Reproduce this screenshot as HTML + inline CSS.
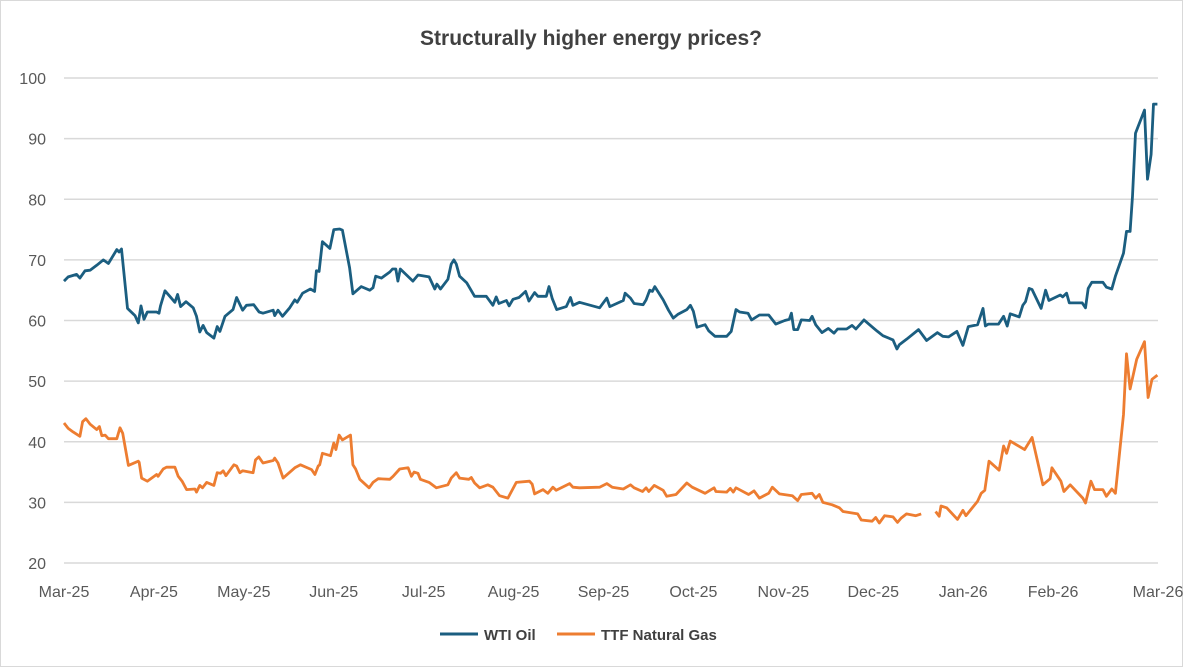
<!DOCTYPE html>
<html><head><meta charset="utf-8"><style>
html,body{margin:0;padding:0;background:#fff;}
svg{display:block;font-family:"Liberation Sans",Arial,sans-serif;}
</style></head><body>
<svg id="chart" width="1183" height="667" viewBox="0 0 1183 667">
<rect x="0.5" y="0.5" width="1182" height="666" fill="#fff" stroke="#d9d9d9"/>
<text x="591" y="45" text-anchor="middle" font-size="21" font-weight="bold" fill="#404040">Structurally higher energy prices?</text>
<g id="grid"></g>
<g id="yaxis"></g>
<g id="xaxis"></g>
<g id="series"></g>
<g>
<line x1="440" y1="634" x2="478" y2="634" stroke="#1b5e80" stroke-width="3"/>
<text x="484" y="640" font-size="15" font-weight="bold" fill="#404040">WTI Oil</text>
<line x1="557" y1="634" x2="595" y2="634" stroke="#ed7d31" stroke-width="3"/>
<text x="601" y="640" font-size="15" font-weight="bold" fill="#404040">TTF Natural Gas</text>
</g>
</svg>
<script>
const yTicks = [20,30,40,50,60,70,80,90,100];
const xTickLabels = ["Mar-25","Apr-25","May-25","Jun-25","Jul-25","Aug-25","Sep-25","Oct-25","Nov-25","Dec-25","Jan-26","Feb-26","Mar-26"];
const xTickDays = [0,30,60,90,120,150,180,210,240,270,300,330,365];
const wtiDays = [0,1.4,4.2,5.3,7,8.7,10.9,13.1,14.8,17.6,18.4,19.2,21.2,23.7,24.8,25.7,26.7,27.8,30.9,31.7,32.2,33.7,35.3,37,37.9,38.9,40.7,43.1,44.2,45.3,46.4,47.6,50,51.1,52,53.7,56.4,57.6,59.6,60.9,63.3,65.1,66.4,69.8,70.3,71.4,72.9,75.3,77,77.8,79.6,82.2,83.6,84.2,85.1,86.2,88.7,90,92,92.9,95.3,96.4,99.2,102,103.1,104,105.9,108.7,109.6,110.7,111.4,112.2,116.4,118.1,121.8,123.7,124.4,125.6,128.1,129.2,130.1,130.9,132,134.4,137,140.9,143.1,144.2,145.1,147.6,148.5,149.8,151.8,154,155.1,157,158.1,160.9,161.8,162.9,164.4,167.6,169,169.8,172,
178.7,181.1,182.1,186.6,187.2,189,190.2,193.2,194.2,195.4,196.3,197.1,199.9,201.7,203.3,204.8,207.8,209,210,211.2,213.9,215.1,217.2,221.1,222.6,224.2,225.4,228.2,229.4,232,235.1,237.5,240.5,242,242.7,243.5,244.8,246,248.8,249.6,250.8,252.9,255,256.9,258.1,261.1,262.9,264.2,266.9,270.2,271.4,273.2,276.6,277.9,278.7,281.1,285.1,287.8,291.4,293.2,295.1,297.9,299.9,301.7,304.8,306.6,307.4,308.4,311.8,313.5,314.7,315.7,318.7,319.9,320.8,322,323,326,327.5,328.6,332.4,333.2,334.5,335.4,339.7,340.8,341.7,342.9,346.6,347.8,349.6,350.8,353.5,354.5,355.7,356.5,357.5,360.5,361.5,362.7,363.5,364.8];
const wtiValues = [66.5,67.2,67.6,67,68.2,68.3,69.1,70,69.4,71.7,71.3,71.8,62,60.8,59.6,62.4,60.2,61.4,61.4,61.2,62.4,64.9,64,63,64.3,62.3,63.1,62.1,60.7,58.1,59.2,58,57.1,59,58.2,60.7,61.8,63.8,61.7,62.5,62.6,61.4,61.2,61.7,60.8,61.7,60.7,62.1,63.4,63,64.5,65.2,64.8,68.2,68.1,73,71.9,75,75.1,74.9,68.7,64.4,65.6,65,65.4,67.3,67,68,68.5,68.5,66.5,68.5,66.5,67.5,67.2,65.2,66,65.2,66.8,69.3,70,69.3,67.3,66.2,64,64,62.5,63.9,62.8,63.3,62.4,63.5,63.8,64.8,63.2,64.6,64,64,65.6,63.6,61.8,62.3,63.8,62.5,63,
62.1,63.7,62.3,63.3,64.5,63.7,62.8,62.6,63.4,65,64.8,65.6,63.4,61.7,60.4,61,61.8,62.5,61.5,58.9,59.3,58.3,57.4,57.4,58.2,61.8,61.4,61.2,60.1,60.9,60.9,59.4,60,60.2,61.2,58.5,58.5,60.1,60,60.7,59.3,58,58.7,57.9,58.6,58.6,59.2,58.6,60.1,58.7,58.2,57.5,56.8,55.3,56,56.9,58.5,56.7,58,57.4,57.3,58.2,55.9,59,59.3,62,59.1,59.4,59.4,60.7,59.1,61.1,60.6,62.5,63.1,65.3,65.1,62,65,63.3,64.2,63.9,64.5,62.9,62.9,62.1,65.3,66.3,66.3,65.5,65.2,67.3,71.1,74.7,74.7,80.5,90.9,94.7,83.3,87.4,95.7,95.7];
const ttfDays = [0,1.4,3.1,5.3,6.2,7.3,8.7,10.9,11.8,12.6,13.7,14.8,17.6,18.7,19.6,21.5,24.8,25.1,25.9,27.8,30.9,31.4,33.1,34.2,37,38.1,39.4,40.9,43.7,44.2,45.3,46.2,47.6,50,51.1,52.2,53.1,54,56.7,57.6,58.7,59.6,63.1,63.9,65,66.4,69.8,70.3,71.4,73.1,77,78.9,82.6,83.7,84.8,85.3,86.2,88.9,90,90.7,91.8,92.9,95.6,96.4,97.3,98.7,101.8,103.1,104.8,108.7,109.8,112,114.8,115.9,116.8,118.1,118.9,121.8,124.2,128.1,129.2,130.9,132,135.1,135.9,137,138.7,141.4,143.1,145.3,148.1,150.9,155.3,156.2,157,159.8,161.4,163.1,164.2,168.7,169.8,172,
178.7,181.1,182.9,186.6,189,190.2,193,194.2,195.1,196.9,199.9,201.1,204.2,207.8,209.6,213.9,216.9,217.5,221.1,222.3,223.3,224.2,228.4,230.2,232,235.1,236.3,238.7,243,244.8,246,249.6,250.8,252,253.2,256.3,258.7,259.9,264.8,266,269.6,270.8,272,273.8,276.6,278.1,279.3,281.1,284.2,286,288,
290.8,292,292.6,294.5,298.1,299.9,300.9,304.8,306,307.2,308.6,312,313.5,314.5,315.7,320.5,323,326.6,329,329.6,332.6,333.6,335.7,339.9,340.8,342.6,343.8,346.6,347.8,349.6,350.8,353.5,354.5,355.7,357.9,360.5,361.7,363,364.8];
const ttfValues = [43.1,42.2,41.6,40.9,43.3,43.8,42.9,42,42.5,41,41.1,40.5,40.5,42.3,41.4,36.1,36.8,36.6,34,33.5,34.6,34.3,35.5,35.8,35.8,34.3,33.5,32.1,32.2,31.7,32.8,32.4,33.3,32.8,34.9,34.8,35.2,34.4,36.2,36,34.9,35.2,34.9,37,37.5,36.5,36.9,37.3,36.5,34,35.7,36.2,35.4,34.6,36,36.2,38.1,37.7,39.8,38.7,41.1,40.3,41.1,36.2,35.5,33.8,32.4,33.3,33.9,33.8,34.3,35.5,35.7,34.3,35,34.8,33.8,33.3,32.4,32.9,34,34.9,34,33.8,34.1,33.2,32.4,32.9,32.5,31.1,30.7,33.3,33.5,33,31.4,32.1,31.5,32.5,32,33.1,32.5,32.4,
32.5,33.1,32.5,32.2,32.9,32.4,31.8,32.4,31.8,32.8,32,31,31.3,33.2,32.5,31.5,32.4,31.8,31.7,32.3,31.7,32.4,31.3,31.9,30.7,31.5,32.5,31.4,31.1,30.3,31.3,31.5,30.7,31.3,30,29.6,29.1,28.5,28.1,27.1,26.9,27.5,26.6,27.8,27.6,26.7,27.4,28.1,27.8,28.1,null,
28.5,27.7,29.4,29.1,27.2,28.7,27.8,30.2,31.5,32,36.8,35.3,39.3,38.1,40.1,38.7,40.7,32.9,33.9,35.7,33.5,31.8,32.9,30.7,29.9,33.5,32.1,32.1,31,32.2,31.5,44.5,54.5,48.7,53.6,56.5,47.3,50.3,51];

const X0=64, X1=1158, Y0=563, Y1=78, DMAX=365, VMIN=20, VMAX=100;
function xs(d){return X0+(X1-X0)*d/DMAX;}
function ys(v){return Y0-(Y0-Y1)*(v-VMIN)/(VMAX-VMIN);}
const NS="http://www.w3.org/2000/svg";
const grid=document.getElementById('grid'), yax=document.getElementById('yaxis'), xax=document.getElementById('xaxis'), ser=document.getElementById('series');
yTicks.forEach(v=>{
  const l=document.createElementNS(NS,'line');
  l.setAttribute('x1',X0);l.setAttribute('x2',X1);l.setAttribute('y1',ys(v));l.setAttribute('y2',ys(v));
  l.setAttribute('stroke','#d9d9d9');l.setAttribute('stroke-width','1.5');
  
  
  grid.appendChild(l);
  const t=document.createElementNS(NS,'text');
  t.setAttribute('x',46);t.setAttribute('y',ys(v)+6);t.setAttribute('text-anchor','end');
  t.setAttribute('font-size','16');t.setAttribute('fill','#595959');t.textContent=v;
  
  
  yax.appendChild(t);
});
xTickLabels.forEach((s,i)=>{
  const t=document.createElementNS(NS,'text');
  t.setAttribute('x',xs(xTickDays[i]));t.setAttribute('y',597);t.setAttribute('text-anchor','middle');
  t.setAttribute('font-size','16');t.setAttribute('fill','#595959');t.textContent=s;
  
  
  xax.appendChild(t);
});
function path(days,vals){
  let d='',pen=false;
  for(let i=0;i<days.length;i++){
    if(vals[i]===null){pen=false;continue;}
    d+=(pen?'L':'M')+xs(days[i]).toFixed(1)+','+ys(vals[i]).toFixed(1);pen=true;
  }
  return d;
}
const p1=document.createElementNS(NS,'path');
p1.setAttribute('d',path(wtiDays,wtiValues));p1.setAttribute('fill','none');p1.setAttribute('stroke','#1b5e80');p1.setAttribute('stroke-width','2.8');p1.setAttribute('stroke-linejoin','round');


ser.appendChild(p1);
const p2=document.createElementNS(NS,'path');
p2.setAttribute('d',path(ttfDays,ttfValues));p2.setAttribute('fill','none');p2.setAttribute('stroke','#ed7d31');p2.setAttribute('stroke-width','2.8');p2.setAttribute('stroke-linejoin','round');


ser.appendChild(p2);
</script>
</body></html>
